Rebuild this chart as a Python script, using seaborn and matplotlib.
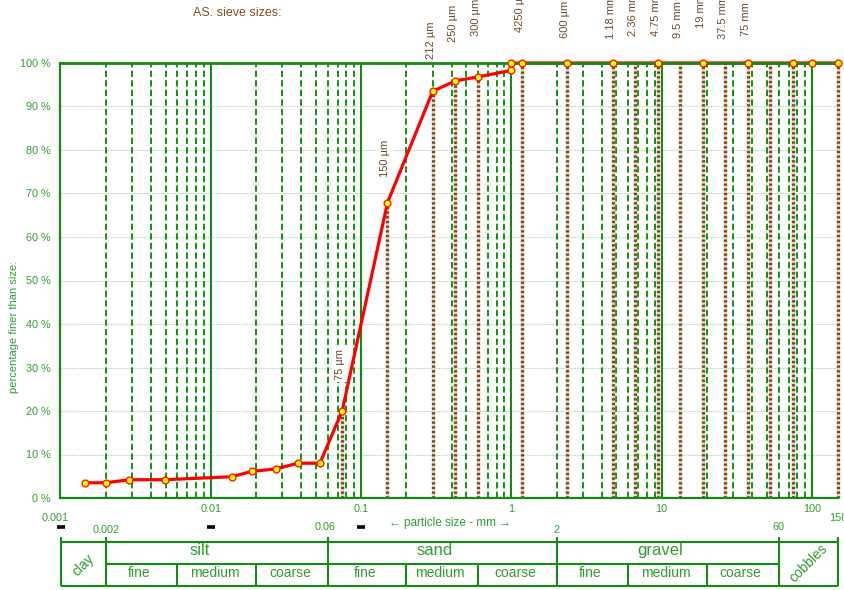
import numpy as np
import pandas as pd
import matplotlib
matplotlib.use("Agg")
import matplotlib.pyplot as plt
import seaborn as sns

# Grading curve: particle size (mm) and percentage finer
size_mm = [0.00146, 0.002, 0.00287, 0.00496, 0.0138, 0.0187, 0.0272, 0.038, 0.0533,
           0.075, 0.15, 0.3, 0.425, 0.6, 1.0, 1.0, 1.18, 2.36, 4.75, 9.5, 19, 37.5,
           75, 100, 150]
passing = [3.5, 3.5, 4.2, 4.2, 4.9, 6.1, 6.7, 8.0, 8.0,
           20.1, 67.9, 93.5, 95.9, 96.8, 98.3, 100, 100, 100, 100, 100, 100, 100,
           100, 100, 100]

# AS sieve apertures (mm) and percentage passing at each
sieve_mm = [0.075, 0.15, 0.3, 0.425, 0.6, 1.18, 2.36, 4.75, 6.7, 9.5, 13.2, 19,
            26.5, 37.5, 53, 75, 150]
sieve_passing = [20.1, 67.9, 93.5, 95.9, 96.8, 100, 100, 100, 100, 100, 100, 100,
                 100, 100, 100, 100, 100]
sieve_labels = ["75 µm", "150 µm", "212 µm", "250 µm", "300 µm", "4250 µm",
                "600 µm", "1.18 mm", "2.36 mm", "4.75 mm", "9.5 mm", "19 mm",
                "37.5 mm", "75 mm"]

# Axis ticks
y_ticks = list(range(0, 101, 10))
y_tick_labels = [f"{v} %" for v in y_ticks]
x_ticks = [0.001, 0.01, 0.1, 1, 10, 100]
x_tick_labels = ["", "0.01", "0.1", "1", "10", "100"]

# Soil classification table
class_bounds = [0.001, 0.002, 0.06, 2, 60, 150]
class_bound_labels = ["0.001", "0.002", "0.06", "2", "60", "150"]
groups = ["silt", "sand", "gravel"]
sub_bounds = [0.002, 0.006, 0.02, 0.06, 0.2, 0.6, 2, 6, 20, 60]
sub_names = ["fine", "medium", "coarse"] * 3

# label placement
label_bottom = [27.1, 73.8, 100.85, 104.9, 106.2, 107.1, 105.7, 105.5, 106.3,
                106.2, 105.8, 108.1, 105.5, 106.3]
group_x = [0.00847, 0.31, 9.85]
bound_label_y = [3.09, 2.55, 2.68, 2.55, 2.68, 3.09]
bound_label_dx = [-5, 0, -3, 0, 0, 0]

GREEN = "#168a16"
TGREEN = "#2f9e2f"
BROWN = "#7a4a1e"
LBROWN = "#6e4a2a"

sns.set_theme(style="white")
plt.rcParams["font.family"] = ["Liberation Sans", "DejaVu Sans"]

fig = plt.figure(figsize=(8.45, 5.90), dpi=100)
W, H = 845, 590
x0, x1 = 60.5, 838.3
ax = fig.add_axes([x0 / W, 1 - 498 / H, (x1 - x0) / W, (498 - 63) / H])
ax.set_xscale("log")
ax.set_xlim(0.001, 150)
ax.set_ylim(0, 100)

# horizontal grid
for v in y_ticks[1:-1]:
    ax.axhline(v, color="#b4dcb4", lw=0.8, ls=(0, (1.5, 1)), zorder=1)

# vertical grid: solid decades, dashed intermediates
for d in [0.01, 0.1, 1, 10, 100]:
    ax.axvline(d, color=GREEN, lw=1.5, zorder=2)
for dec in [0.001, 0.01, 0.1, 1, 10]:
    for k in range(2, 10):
        xv = k * dec
        if xv < 150:
            ax.axvline(xv, color="#008a00", lw=1.3, ls=(0, (3.5, 1.8)), zorder=2)

# sieve stems
ax.vlines(sieve_mm, 0, sieve_passing, color="#e6d8c4", lw=2.4, zorder=2.2,
          clip_on=False)
ax.vlines(sieve_mm, 0, sieve_passing, color=BROWN, lw=2.4, ls=(0, (0.7, 0.7)),
          zorder=2.3, clip_on=False)

df = pd.DataFrame({"size": size_mm, "passing": passing})
sns.lineplot(data=df, x="size", y="passing", sort=False, estimator=None,
             color="#ff0000", lw=2.3, ax=ax, zorder=2.4)
ax.lines[-1].set_clip_on(False)
sns.scatterplot(data=df, x="size", y="passing", ax=ax, s=24, color="#ffff00",
                edgecolor="#ff1a00", linewidth=1.0, zorder=5, clip_on=False)
ax.set_xlabel("")
ax.set_ylabel("")

for side in ["left", "bottom", "top"]:
    ax.spines[side].set_color(GREEN)
    ax.spines[side].set_linewidth(1.6)
    ax.spines[side].set_zorder(2.5)
ax.spines["top"].set_linewidth(2.0)
ax.spines["right"].set_visible(False)

ax.set_yticks(y_ticks, labels=y_tick_labels)
ax.set_xticks(x_ticks, labels=x_tick_labels)
ax.minorticks_off()
ax.tick_params(axis="y", colors=GREEN, labelcolor=TGREEN, length=3, width=1,
               labelsize=7.8, pad=4)
ax.tick_params(axis="x", colors=GREEN, labelcolor=TGREEN, length=3, width=1.4,
               labelsize=7.8, pad=1)

fig.text(14 / W, 1 - 327 / H, "percentage finer than size:", rotation=90,
         ha="center", va="center", color=TGREEN, fontsize=8)
fig.text(237 / W, 1 - 13 / H, "AS. sieve sizes:", ha="center", va="center",
         color="#80501e", fontsize=9)

# sieve labels
for lab, xv, yb in zip(sieve_labels, sieve_mm, label_bottom):
    ax.annotate(lab, xy=(xv, yb), xytext=(-2, 0), textcoords="offset pixels",
                rotation=90, ha="center", va="bottom", fontsize=8,
                color=LBROWN, annotation_clip=False, zorder=6,
                bbox=dict(fc="white", ec="none", pad=1.5))

# classification table
tab = fig.add_axes([x0 / W, 1 - 586 / H, (x1 - x0) / W, 44 / H])
tab.set_xscale("log")
tab.set_xlim(0.001, 150)
tab.set_ylim(0, 2)
tab.axis("off")
lw = 1.5
tab.hlines([0, 2], 0.001, 150, color=GREEN, lw=lw, clip_on=False)
tab.hlines(1, 0.002, 60, color=GREEN, lw=lw, clip_on=False)
tab.vlines(class_bounds, 0, 2.23, color=GREEN, lw=lw, clip_on=False)
tab.vlines(sub_bounds, 0, 1, color=GREEN, lw=lw, clip_on=False)

for name, gx in zip(groups, group_x):
    tab.text(gx, 1.62, name, ha="center", va="center", fontsize=12,
             color=TGREEN)
for i, name in enumerate(sub_names):
    mid = np.sqrt(sub_bounds[i] * sub_bounds[i + 1])
    tab.annotate(name, xy=(mid, 0.57), xytext=(-2, 0),
                 textcoords="offset pixels", ha="center", va="center",
                 fontsize=10, color=TGREEN, annotation_clip=False)
tab.text(0.001413, 0.95, "clay", rotation=45, ha="center", va="center",
         fontsize=10, color=TGREEN)
tab.text(95.5, 1.05, "cobbles", rotation=45, ha="center", va="center",
         fontsize=10, color=TGREEN)

for xv, lab, yv, dx in zip(class_bounds, class_bound_labels, bound_label_y,
                           bound_label_dx):
    tab.annotate(lab, xy=(xv, yv), xytext=(dx, 0), textcoords="offset pixels",
                 ha="center", va="center", fontsize=7.8, color=TGREEN,
                 annotation_clip=False)

tab.plot([0.001, 0.01, 0.1], [2.68] * 3, ls="none", marker="_", ms=6,
         mew=2.6, color="black", clip_on=False)
tab.text(0.3904, 2.86, "← particle size - mm →", ha="center", va="center",
         fontsize=8.5, color=TGREEN)

fig.savefig("out.png", dpi=100, facecolor="white")
